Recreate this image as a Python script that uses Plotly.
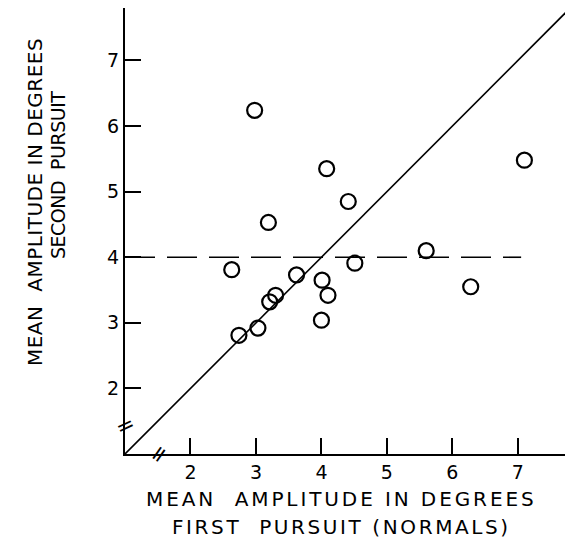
import plotly.graph_objects as go

# Data
first_pursuit = [2.98, 4.08, 4.41, 7.10, 3.19, 2.63, 3.62, 4.51, 5.60, 6.28,
                 4.01, 4.10, 4.00, 3.30, 3.21, 3.03, 2.74]
second_pursuit = [6.24, 5.35, 4.85, 5.48, 4.53, 3.81, 3.73, 3.91, 4.10, 3.55,
                  3.65, 3.42, 3.04, 3.42, 3.32, 2.92, 2.81]
identity_x = [1.0, 7.9]
identity_y = [1.0, 7.9]
mean_x = [1.0, 7.05]
mean_y = [4.0, 4.0]
tick_vals = [2, 3, 4, 5, 6, 7]
tick_text = ["2", "3", "4", "5", "6", "7"]

FONT = "DejaVu Sans"

fig = go.Figure()
fig.add_trace(go.Scatter(x=identity_x, y=identity_y, mode="lines",
                         line=dict(color="black", width=1.6), hoverinfo="skip"))
fig.add_trace(go.Scatter(x=mean_x, y=mean_y, mode="lines",
                         line=dict(color="black", width=1.6, dash="30px,12px"),
                         hoverinfo="skip"))
fig.add_trace(go.Scatter(x=first_pursuit, y=second_pursuit, mode="markers",
                         marker=dict(symbol="circle-open", size=15, color="black",
                                     line=dict(width=2.2, color="black"))))

axis_common = dict(showgrid=False, zeroline=False, showline=True, linecolor="black",
                   linewidth=2, ticks="inside", ticklen=16, tickwidth=2,
                   tickcolor="black", tickvals=tick_vals, ticktext=tick_text,
                   tickfont=dict(family=FONT, size=19, color="black"))

fig.update_layout(
    width=565, height=546,
    margin=dict(l=125, r=0, t=8, b=92),
    paper_bgcolor="white", plot_bgcolor="white",
    showlegend=False,
    xaxis=dict(range=[1, 7.72], **axis_common),
    yaxis=dict(range=[1, 7.8], **axis_common),
)

def spaced(s, px):
    return '<span style="letter-spacing:%.1fpx">%s</span>' % (px, s)

fig.add_annotation(xref="paper", yref="paper", x=0.491, y=-0.101,
                   text=spaced("MEAN  AMPLITUDE IN DEGREES", 2.9), showarrow=False,
                   xanchor="center", yanchor="middle",
                   font=dict(family=FONT, size=20, color="black"))
fig.add_annotation(xref="paper", yref="paper", x=0.491, y=-0.163,
                   text=spaced("FIRST  PURSUIT (NORMALS)", 2.6), showarrow=False,
                   xanchor="center", yanchor="middle",
                   font=dict(family=FONT, size=20, color="black"))
fig.add_annotation(xref="paper", yref="paper", x=-0.2045, y=0.565,
                   text=spaced("MEAN  AMPLITUDE IN DEGREES", 0.5), textangle=-90,
                   showarrow=False, xanchor="center", yanchor="middle",
                   font=dict(family=FONT, size=20, color="black"))
fig.add_annotation(xref="paper", yref="paper", x=-0.152, y=0.6256,
                   text=spaced("SECOND  PURSUIT", -0.5), textangle=-90, showarrow=False,
                   xanchor="center", yanchor="middle",
                   font=dict(family=FONT, size=19, color="black"))

# axis break marks
fig.add_annotation(xref="x", yref="y", x=1.0, y=1.43, text="=", textangle=-25,
                   showarrow=False, font=dict(family=FONT, size=22, color="black"))
fig.add_annotation(xref="x", yref="y", x=1.5, y=1.0, text="=", textangle=-55,
                   showarrow=False, font=dict(family=FONT, size=22, color="black"))

fig.write_html("out.html")
